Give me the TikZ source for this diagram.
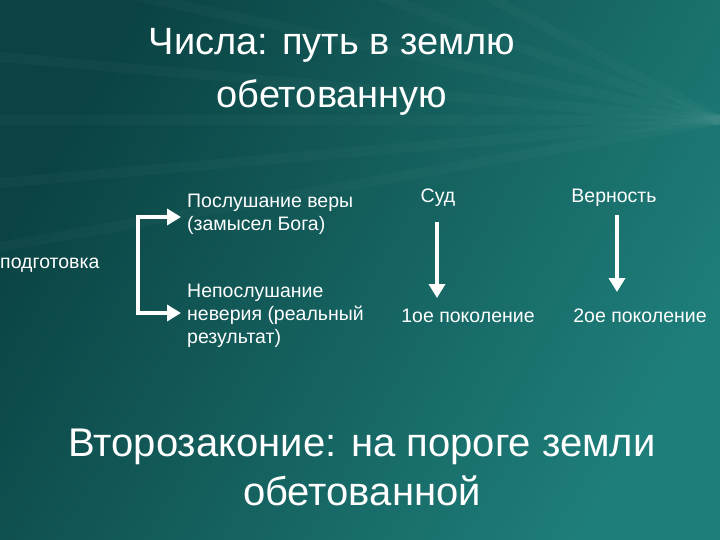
\documentclass[tikz,border=0pt]{standalone}
\usepackage{fontspec}
\setmainfont{Liberation Sans}
\usetikzlibrary{arrows.meta}
\definecolor{bgA}{HTML}{0B4343}
\definecolor{bgB}{HTML}{1E7E7A}
\begin{document}
\begin{tikzpicture}[x=1pt,y=-1pt,
  txt/.style={text=white,font=\fontsize{19.5}{23}\selectfont,inner sep=0pt},
  ttl/.style={text=white,font=\fontsize{38}{53}\selectfont,align=center,inner sep=0pt},
  bot/.style={text=white,font=\fontsize{40}{49}\selectfont,align=center,inner sep=0pt},
  warr/.style={white,line width=4pt,-{Triangle[length=14pt,width=16pt]}}]
\shade[left color=bgA,right color=bgB,shading angle=60] (0,0) rectangle (720,540);
\useasboundingbox (0,0) rectangle (720,540);
\foreach \a in {-10,-5,0,5,12,20,28}{\draw[white,opacity=0.025,line width=10pt] (720,120) -- ++(180+\a:800);}
\node[ttl] (t) at (332,72) {Числа: путь в землю\\обетованную};
\node[txt,anchor=west,align=left] (a) at (187,214) {Послушание веры\\(замысел Бога)};
\node[txt,anchor=west] (p) at (0,265) {подготовка};
\node[txt,anchor=west,align=left] (b) at (187,316) {Непослушание\\неверия (реальный\\результат)};
\node[txt] (s) at (438,198) {Суд};
\node[txt] (g1) at (468,316) {1ое поколение};
\node[txt] (v) at (614,198) {Верность};
\node[txt] (g2) at (640,316) {2ое поколение};
\coordinate (c1) at (138,217);
\coordinate (c2) at (138,313);
\draw[white,line width=4pt] (c1) -- (c2);
\draw[warr] ([xshift=-2pt]c1) -- ([xshift=-6pt]a.west|-c1);
\draw[warr] ([xshift=-2pt]c2) -- ([xshift=-6pt]b.west|-c2);
\draw[warr] (437,222) -- (437,298);
\draw[warr] (617,215) -- (617,292);
\node[bot] (z) at (362,467) {Второзаконие: на пороге земли\\обетованной};
\end{tikzpicture}
\end{document}
